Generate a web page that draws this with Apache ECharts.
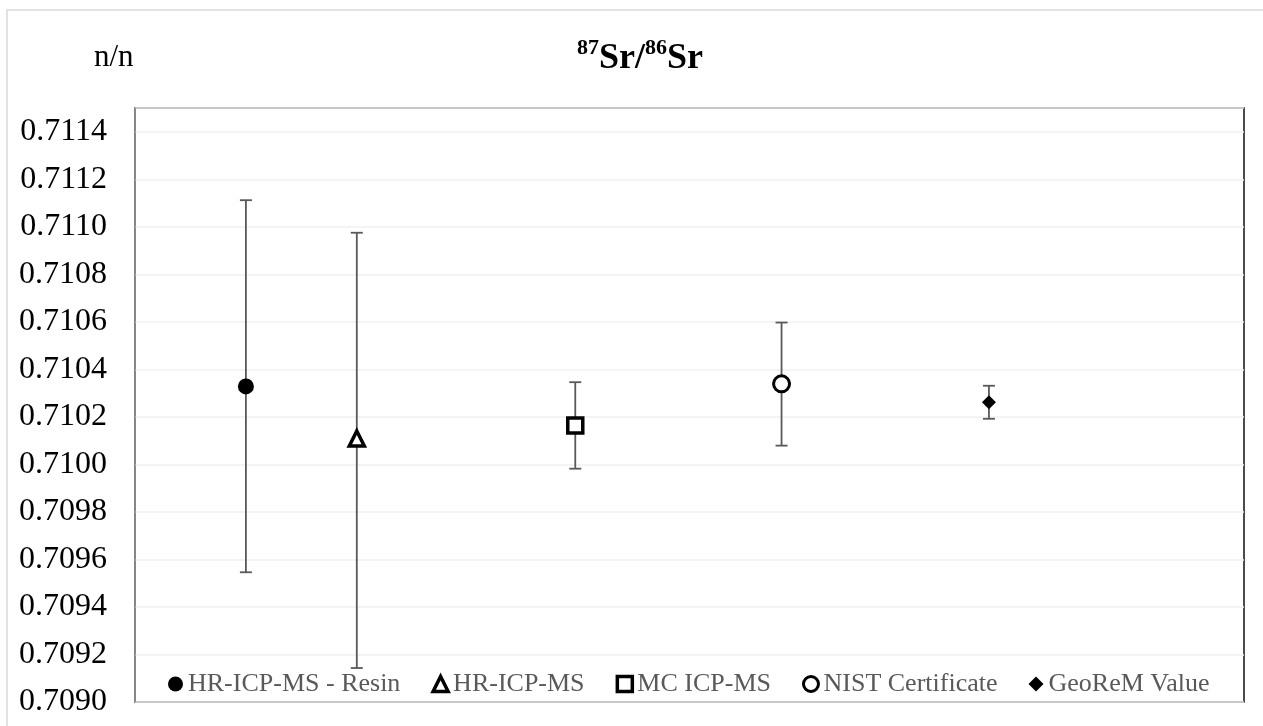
<!DOCTYPE html>
<html>
<head>
<meta charset="utf-8">
<script src="https://cdn.jsdelivr.net/npm/echarts@6/dist/echarts.min.js"></script>
<style>html,body{margin:0;padding:0;background:#fff}#c{width:1263px;height:726px}</style>
</head>
<body>
<div id="c"></div>
<script>
var seriesNames = ['HR-ICP-MS - Resin', 'HR-ICP-MS', 'MC ICP-MS', 'NIST Certificate', 'GeoReM Value'];
var xPositions = [1, 2, 3.97, 5.83, 7.7];
var centerValues = [0.710328, 0.710109, 0.710164, 0.710339, 0.710262];
var upperValues = [0.711112, 0.710975, 0.710346, 0.710597, 0.710331];
var lowerValues = [0.709546, 0.709143, 0.709982, 0.710079, 0.710192];
var yTickMin = 0.7090, yTickMax = 0.7115, yTickStep = 0.0002;

var markerStyles = [
  {symbol: 'circle', size: 16, itemStyle: {color: '#000', borderColor: '#000', borderWidth: 0, opacity: 1}},
  {symbol: 'triangle', size: 15, itemStyle: {color: '#fff', borderColor: '#000', borderWidth: 3.5, opacity: 1}},
  {symbol: 'rect', size: 15, itemStyle: {color: '#fff', borderColor: '#000', borderWidth: 3.5, opacity: 1}},
  {symbol: 'circle', size: 16, itemStyle: {color: '#fff', borderColor: '#000', borderWidth: 3, opacity: 1}},
  {symbol: 'diamond', size: 14, itemStyle: {color: '#000', borderColor: '#000', borderWidth: 0, opacity: 1}}
];

var font = '"Liberation Serif", "Times New Roman", serif';
var chart = echarts.init(document.getElementById('c'), null, {renderer: 'canvas'});

var series = [];
seriesNames.forEach(function (name, i) {
  series.push({
    type: 'custom',
    name: name + '_err',
    silent: true,
    z: 2,
    data: [[xPositions[i], lowerValues[i], upperValues[i]]],
    renderItem: function (params, api) {
      var lo = api.coord([api.value(0), api.value(1)]);
      var hi = api.coord([api.value(0), api.value(2)]);
      var hw = 6;
      var st = {stroke: '#595959', lineWidth: 1.8};
      return {type: 'group', children: [
        {type: 'line', shape: {x1: lo[0], y1: lo[1], x2: hi[0], y2: hi[1]}, style: st},
        {type: 'line', shape: {x1: hi[0] - hw, y1: hi[1], x2: hi[0] + hw, y2: hi[1]}, style: st},
        {type: 'line', shape: {x1: lo[0] - hw, y1: lo[1], x2: lo[0] + hw, y2: lo[1]}, style: st}
      ]};
    }
  });
  series.push({
    type: 'scatter',
    name: name,
    z: 5,
    symbol: markerStyles[i].symbol,
    symbolSize: markerStyles[i].size,
    itemStyle: markerStyles[i].itemStyle,
    data: [[xPositions[i], centerValues[i]]]
  });
});

var legendData = seriesNames.map(function (name, i) {
  return {name: name, icon: markerStyles[i].symbol, itemStyle: markerStyles[i].itemStyle};
});

chart.setOption({
  animation: false,
  backgroundColor: '#fff',
  graphic: [
    {type: 'rect', shape: {x: 7, y: 10, width: 1300, height: 800}, style: {fill: 'none', stroke: '#d9d9d9', lineWidth: 1.5}, z: -10},
    {type: 'text', left: 94, top: 42, style: {text: 'n/n', font: '31px ' + font, fill: '#000'}}
  ],
  title: {
    text: '{sup|87}{b|Sr/}{sup|86}{b|Sr}',
    left: 572, top: 32,
    textStyle: {
      rich: {
        b: {fontFamily: font, fontSize: 36, fontWeight: 'bold', color: '#000', lineHeight: 40, verticalAlign: 'bottom'},
        sup: {fontFamily: font, fontSize: 22, fontWeight: 'bold', color: '#000', lineHeight: 40, verticalAlign: 'top', padding: [0, 0, 14, 0]}
      }
    }
  },
  legend: {
    data: legendData,
    left: 163, top: 666,
    itemWidth: 15, itemHeight: 15, itemGap: 31,
    textStyle: {fontFamily: font, fontSize: 26, color: '#595959'}
  },
  grid: {left: 135, right: 19, top: 108, bottom: 24, show: true, borderColor: '#111', borderWidth: 1.5, backgroundColor: 'transparent'},
  xAxis: {
    type: 'value', min: 0, max: 10,
    show: true,
    axisLine: {show: false}, axisTick: {show: false}, axisLabel: {show: false}, splitLine: {show: false}
  },
  yAxis: {
    type: 'value', min: yTickMin, max: yTickMax, interval: yTickStep,
    axisLine: {show: true, lineStyle: {color: '#9a9a9a', width: 1.5}},
    axisTick: {show: false},
    axisLabel: {showMaxLabel: false, margin: 28, fontFamily: font, fontSize: 32, color: '#000',
      formatter: function (v) { return v.toFixed(4); }},
    splitLine: {show: true, lineStyle: {color: '#f0f0f0', width: 1.5}}
  },
  series: series
});
</script>
</body>
</html>
